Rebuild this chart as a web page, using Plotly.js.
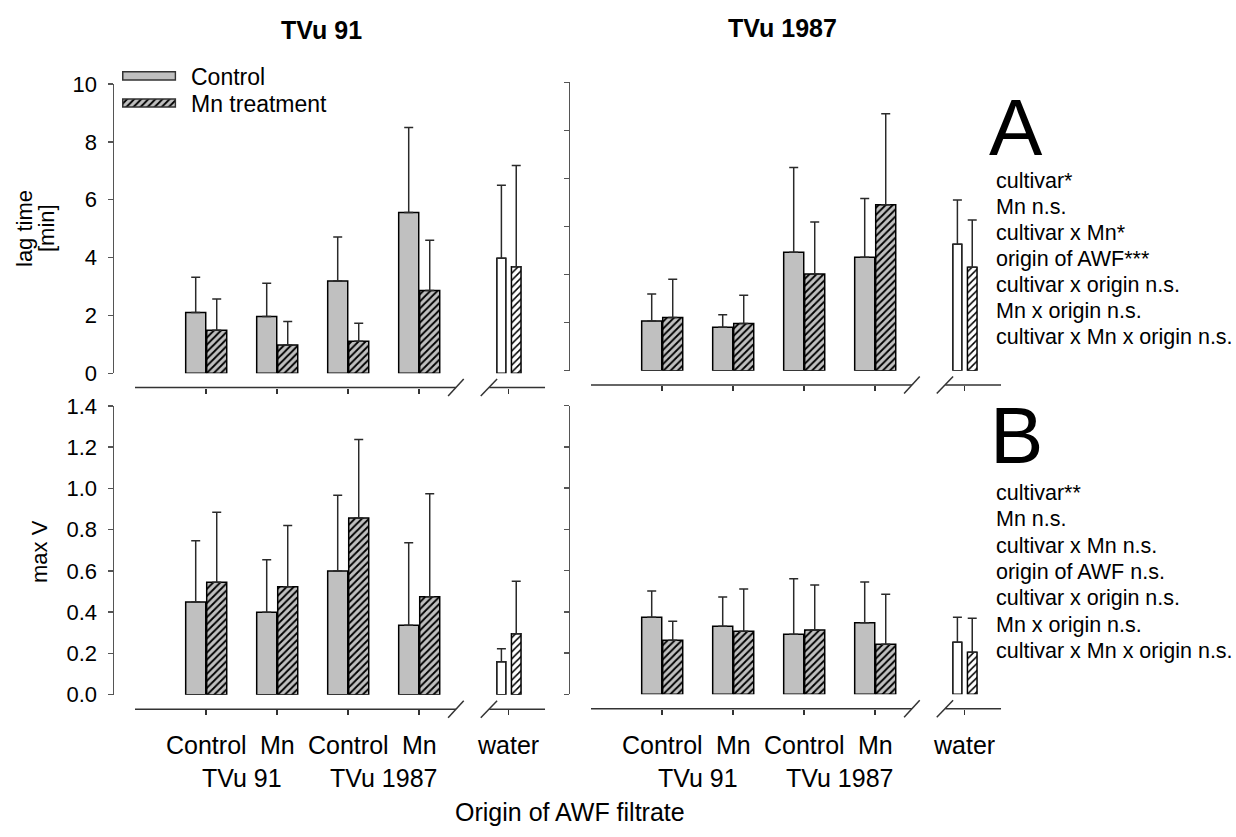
<!DOCTYPE html>
<html><head><meta charset="utf-8">
<script src="https://cdn.plot.ly/plotly-3.0.1.min.js"></script>
<style>html,body{margin:0;padding:0;background:#fff}#chart{width:1236px;height:837px}</style>
</head><body><div id="chart"></div>
<script>
// ---------------- DATA ----------------
const categories = ['Control', 'Mn', 'Control', 'Mn', 'water'];
const cultivarGroups = ['TVu 91', 'TVu 1987'];
const seriesNames = ['Control', 'Mn treatment'];
const panelTitles = ['TVu 91', 'TVu 1987'];

// Panel A: lag time [min]  (means and upper SD) — plants of TVu 91
const lagTVu91Control   = [2.10, 1.96, 3.19, 5.56];
const lagTVu91ControlSD = [1.22, 1.15, 1.52, 2.94];
const lagTVu91Mn        = [1.49, 0.98, 1.11, 2.86];
const lagTVu91MnSD      = [1.08, 0.81, 0.62, 1.74];
const lagTVu91Water     = [3.98, 3.68];   // control, Mn
const lagTVu91WaterSD   = [2.52, 3.50];
// Panel A — plants of TVu 1987
const lagTVu1987Control   = [2.07, 1.81, 4.93, 4.72];
const lagTVu1987ControlSD = [1.12, 0.52, 3.52, 2.44];
const lagTVu1987Mn        = [2.21, 1.96, 4.02, 6.91];
const lagTVu1987MnSD      = [1.59, 1.18, 2.17, 3.78];
const lagTVu1987Water     = [5.26, 4.30];
const lagTVu1987WaterSD   = [1.84, 1.97];

// Panel B: max V — TVu 91
const vTVu91Control   = [0.450, 0.400, 0.600, 0.337];
const vTVu91ControlSD = [0.297, 0.255, 0.367, 0.400];
const vTVu91Mn        = [0.545, 0.524, 0.857, 0.475];
const vTVu91MnSD      = [0.340, 0.296, 0.380, 0.500];
const vTVu91Water     = [0.160, 0.296];
const vTVu91WaterSD   = [0.063, 0.254];
// Panel B — TVu 1987
const vTVu1987Control   = [0.374, 0.330, 0.291, 0.347];
const vTVu1987ControlSD = [0.127, 0.142, 0.270, 0.198];
const vTVu1987Mn        = [0.262, 0.306, 0.312, 0.243];
const vTVu1987MnSD      = [0.092, 0.205, 0.218, 0.242];
const vTVu1987Water     = [0.252, 0.204];
const vTVu1987WaterSD   = [0.122, 0.165];

const statsA = ['cultivar*', 'Mn n.s.', 'cultivar x Mn*', 'origin of AWF***',
                'cultivar x origin n.s.', 'Mn x origin n.s.', 'cultivar x Mn x origin n.s.'];
const statsB = ['cultivar**', 'Mn n.s.', 'cultivar x Mn n.s.', 'origin of AWF n.s.',
                'cultivar x origin n.s.', 'Mn x origin n.s.', 'cultivar x Mn x origin n.s.'];

// ---------------- LAYOUT HELPERS ----------------
const W = 1236, H = 837;
const FONT = 'Liberation Sans, Arial, sans-serif';
const X = px => px / W;
const Y = py => 1 - py / H;
const PXU = 71;                         // px per x unit
const xr = [1 - 92 / PXU, 1 + (436 - 92) / PXU];
const xPos = categories.map((c, i) => i < 4 ? i + 1 : 5.26);

const panels = [
  {ax: '', x0: 114, y0: 373.3, yt: 84,    yr: [0, 10],  dt: 2,   line: 387.5, labels: true,  fmt: ''},
  {ax: '2', x0: 570, y0: 370.7, yt: 82.3, yr: [0, 12],  dt: 2,   line: 385,   labels: false, fmt: ''},
  {ax: '3', x0: 114, y0: 694.7, yt: 406,  yr: [0, 1.4], dt: 0.2, line: 709.3, labels: true,  fmt: '.1f'},
  {ax: '4', x0: 570, y0: 694.3, yt: 405.7, yr: [0, 1.4], dt: 0.2, line: 708.7, labels: false, fmt: '.1f'}
];
const sets = [
  [lagTVu91Control, lagTVu91ControlSD, lagTVu91Mn, lagTVu91MnSD, lagTVu91Water, lagTVu91WaterSD],
  [lagTVu1987Control, lagTVu1987ControlSD, lagTVu1987Mn, lagTVu1987MnSD, lagTVu1987Water, lagTVu1987WaterSD],
  [vTVu91Control, vTVu91ControlSD, vTVu91Mn, vTVu91MnSD, vTVu91Water, vTVu91WaterSD],
  [vTVu1987Control, vTVu1987ControlSD, vTVu1987Mn, vTVu1987MnSD, vTVu1987Water, vTVu1987WaterSD]
];

const GRAY = '#c0c0c0';
const ERR = {color: '#2a2a2a', thickness: 1.5, width: 4.5};
const hatchDark = {shape: '/', bgcolor: GRAY, fgcolor: '#000', size: 5, solidity: 0.38};
const hatchLight = {shape: '/', bgcolor: '#fff', fgcolor: '#000', size: 5, solidity: 0.3};
const outline = {color: '#000', width: 1.5};
const zeros = n => new Array(n).fill(0);

const data = [];
const layout = {
  width: W, height: H, margin: {l: 0, r: 0, t: 0, b: 0},
  paper_bgcolor: '#fff', plot_bgcolor: 'rgba(0,0,0,0)',
  showlegend: false, barmode: 'overlay',
  font: {family: FONT, color: '#000', size: 22},
  shapes: [], annotations: []
};

panels.forEach((p, k) => {
  const [c, cSD, m, mSD, w, wSD] = sets[k];
  const xa = 'x' + p.ax, ya = 'y' + p.ax;
  const gx = xPos.slice(0, 4), wx = [xPos[4]];
  data.push({type: 'bar', x: gx, y: c, xaxis: xa, yaxis: ya, width: 0.282, offset: -0.286,
    marker: {color: GRAY, line: outline},
    error_y: Object.assign({type: 'data', symmetric: false, array: cSD, arrayminus: zeros(4)}, ERR)});
  data.push({type: 'bar', x: gx, y: m, xaxis: xa, yaxis: ya, width: 0.282, offset: 0.01,
    marker: {color: GRAY, pattern: hatchDark, line: outline},
    error_y: Object.assign({type: 'data', symmetric: false, array: mSD, arrayminus: zeros(4)}, ERR)});
  data.push({type: 'bar', x: wx, y: [w[0]], xaxis: xa, yaxis: ya, width: 0.127, offset: -0.163,
    marker: {color: '#fff', line: outline},
    error_y: Object.assign({type: 'data', symmetric: false, array: [wSD[0]], arrayminus: [0]}, ERR)});
  data.push({type: 'bar', x: wx, y: [w[1]], xaxis: xa, yaxis: ya, width: 0.135, offset: 0.042,
    marker: {color: '#fff', pattern: hatchLight, line: outline},
    error_y: Object.assign({type: 'data', symmetric: false, array: [wSD[1]], arrayminus: [0]}, ERR)});

  layout['xaxis' + p.ax] = {
    domain: [X(p.x0), X(p.x0 + 436)], range: xr, anchor: 'free', position: Y(p.line),
    showline: false, showgrid: false, zeroline: false, ticks: 'outside', ticklen: 5,
    tickwidth: 1.5, tickcolor: '#333', tickvals: xPos, showticklabels: false, fixedrange: true
  };
  layout['yaxis' + p.ax] = {
    domain: [Y(p.y0), Y(p.yt)], range: p.yr, dtick: p.dt, tick0: 0, anchor: 'x' + p.ax,
    showline: true, linecolor: '#555', linewidth: 1.5, showgrid: false, zeroline: false,
    ticks: 'outside', ticklen: 5, tickwidth: 1.5, tickcolor: '#555',
    showticklabels: p.labels, tickformat: p.fmt, ticklabelstandoff: 6,
    tickfont: {size: 22, family: FONT, color: '#000'}, fixedrange: true
  };

  // broken x-axis line and break marks
  const ux = u => p.x0 + (u - xr[0]) * PXU;
  const L = {type: 'line', xref: 'paper', yref: 'paper', line: {color: '#333', width: 1.5}};
  layout.shapes.push(Object.assign({x0: X(ux(0)), x1: X(ux(4.52)), y0: Y(p.line), y1: Y(p.line)}, L));
  layout.shapes.push(Object.assign({x0: X(ux(4.99)), x1: X(ux(5.775)), y0: Y(p.line), y1: Y(p.line)}, L));
  layout.shapes.push(Object.assign({x0: X(ux(4.41)), x1: X(ux(4.63)), y0: Y(p.line + 8.5), y1: Y(p.line - 8.5)}, L));
  layout.shapes.push(Object.assign({x0: X(ux(4.87)), x1: X(ux(5.10)), y0: Y(p.line + 8.5), y1: Y(p.line - 8.5)}, L));

  // category labels under the lower panels
  if (k >= 2) {
    categories.forEach((t, i) => layout.annotations.push({
      xref: xa, yref: 'paper', x: xPos[i], y: Y(745), text: t, showarrow: false,
      xanchor: 'center', yanchor: 'middle', font: {size: 25}
    }));
    cultivarGroups.forEach((g, i) => layout.annotations.push({
      xref: xa, yref: 'paper', x: 1.5 + 2 * i, y: Y(778), text: g, showarrow: false,
      xanchor: 'center', yanchor: 'middle', font: {size: 25}
    }));
  }
});

// legend drawn as a small extra subplot
layout.xaxis5 = {domain: [X(121.7), X(176.5)], range: [-0.02, 1.02], visible: false, fixedrange: true, anchor: 'y5'};
layout.yaxis5 = {domain: [Y(116.6), Y(62.2)], range: [-0.5, 1.5], visible: false, fixedrange: true, anchor: 'x5'};
seriesNames.forEach((s, i) => {
  data.push({type: 'bar', orientation: 'h', x: [1], y: [1 - i], xaxis: 'x5', yaxis: 'y5', width: 0.3,
    marker: i === 0 ? {color: GRAY, line: {color: '#333', width: 1.5}}
                    : {color: GRAY, pattern: hatchDark, line: {color: '#333', width: 1.5}}});
  layout.annotations.push({xref: 'paper', yref: 'paper', x: X(189), y: Y(76.5 + 27 * i), text: s,
    showarrow: false, xanchor: 'left', yanchor: 'middle', font: {size: 23}});
});

// titles
layout.annotations.push({xref: 'paper', yref: 'paper', x: X(321), y: Y(30), text: '<b>' + panelTitles[0] + '</b>',
  showarrow: false, xanchor: 'center', yanchor: 'middle', font: {size: 25}});
layout.annotations.push({xref: 'paper', yref: 'paper', x: X(782), y: Y(28), text: '<b>' + panelTitles[1] + '</b>',
  showarrow: false, xanchor: 'center', yanchor: 'middle', font: {size: 25}});
// y titles
layout.annotations.push({xref: 'paper', yref: 'paper', x: X(24), y: Y(228), text: 'lag time', textangle: -90,
  showarrow: false, xanchor: 'center', yanchor: 'middle', font: {size: 22}});
layout.annotations.push({xref: 'paper', yref: 'paper', x: X(46), y: Y(228), text: '[min]', textangle: -90,
  showarrow: false, xanchor: 'center', yanchor: 'middle', font: {size: 22}});
layout.annotations.push({xref: 'paper', yref: 'paper', x: X(39), y: Y(552), text: 'max V', textangle: -90,
  showarrow: false, xanchor: 'center', yanchor: 'middle', font: {size: 22}});
// x title
layout.annotations.push({xref: 'paper', yref: 'paper', x: X(570), y: Y(812), text: 'Origin of AWF filtrate',
  showarrow: false, xanchor: 'center', yanchor: 'middle', font: {size: 25}});
// panel letters and statistics
layout.annotations.push({xref: 'paper', yref: 'paper', x: X(1016), y: Y(127), text: 'A', height: 66,
  showarrow: false, xanchor: 'center', yanchor: 'middle', font: {size: 80}});
layout.annotations.push({xref: 'paper', yref: 'paper', x: X(1016), y: Y(435), text: 'B', height: 66,
  showarrow: false, xanchor: 'center', yanchor: 'middle', font: {size: 80}});
statsA.forEach((t, i) => layout.annotations.push({xref: 'paper', yref: 'paper', x: X(994), y: Y(181 + 26 * i),
  text: t, showarrow: false, xanchor: 'left', yanchor: 'middle', font: {size: 21.5}}));
statsB.forEach((t, i) => layout.annotations.push({xref: 'paper', yref: 'paper', x: X(994), y: Y(493 + 26.3 * i),
  text: t, showarrow: false, xanchor: 'left', yanchor: 'middle', font: {size: 21.5}}));

Plotly.newPlot('chart', data, layout, {staticPlot: true, displayModeBar: false});
</script>
</body></html>
